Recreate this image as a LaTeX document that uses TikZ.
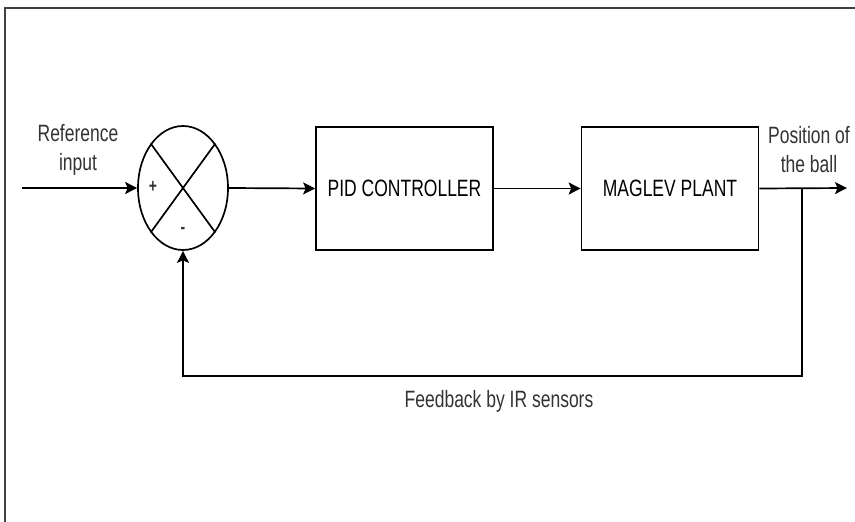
\documentclass[tikz,border=0pt]{standalone}
\usepackage{graphicx}
\usepackage{fontspec}
\setmainfont{Liberation Sans}
\usetikzlibrary{arrows.meta, shapes.geometric}

\newcommand{\tall}[1]{\scalebox{1}[1.35]{#1}}

\begin{document}
\begin{tikzpicture}[
    x=1pt, y=-1pt,
    block/.style={rectangle, draw, line width=1.7pt, text centered, minimum width=177pt, minimum height=123pt, font=\fontsize{17.5}{21}\selectfont},
    summer/.style={ellipse, draw, line width=1.7pt, minimum width=90pt, minimum height=124pt, inner sep=0pt},
    arrow/.style={-{Stealth[length=12pt, width=12pt, inset=2.5pt]}, line width=1.7pt},
    wire/.style={line width=1.7pt},
    signal/.style={align=center, text=black!80, font=\fontsize{17.5}{29}\selectfont},
    sign/.style={font=\fontsize{14}{16}\selectfont\bfseries, text=black!80, inner sep=0pt}
]
\useasboundingbox (0,0) rectangle (855,522);

% frame
\draw[line width=1.4pt, black!75] (855,8) -- (5,8) -- (5,522);

\node[summer] (sum) at (183,188) {};
\draw[wire] (sum.126) -- (sum.306);
\draw[wire] (sum.54) -- (sum.234);
\node[sign] (plus) at (153,187) {\tall{+}};
\node[sign] (minus) at (183,230) {\tall{-}};

\node[block] (pid) at (404.5,188.5) {\tall{PID CONTROLLER}};
\node[block] (plant) at (670,188.5) {\tall{MAGLEV PLANT}};

\coordinate (in) at (22,188);
\coordinate (out) at (847,188);
\coordinate (tap) at (802,188);
\coordinate (corner) at (802,376);

\node[signal] (ref) at (78,150) {\tall{Reference}\\\tall{input}};
\node[signal] (pos) at (809,150) {\tall{Position of}\\\tall{the ball}};
\node[signal] (fb) at (499,401) {\tall{Feedback by IR sensors}};

\draw[arrow] (in) -- (sum.west);
\draw[arrow] (sum.east) -- (pid.west);
\draw[arrow] (pid.east) -- (plant.west);
\draw[arrow] (plant.east) -- (out);
\draw[arrow] (tap) -- (corner) -| (sum.south);

\end{tikzpicture}
\end{document}
